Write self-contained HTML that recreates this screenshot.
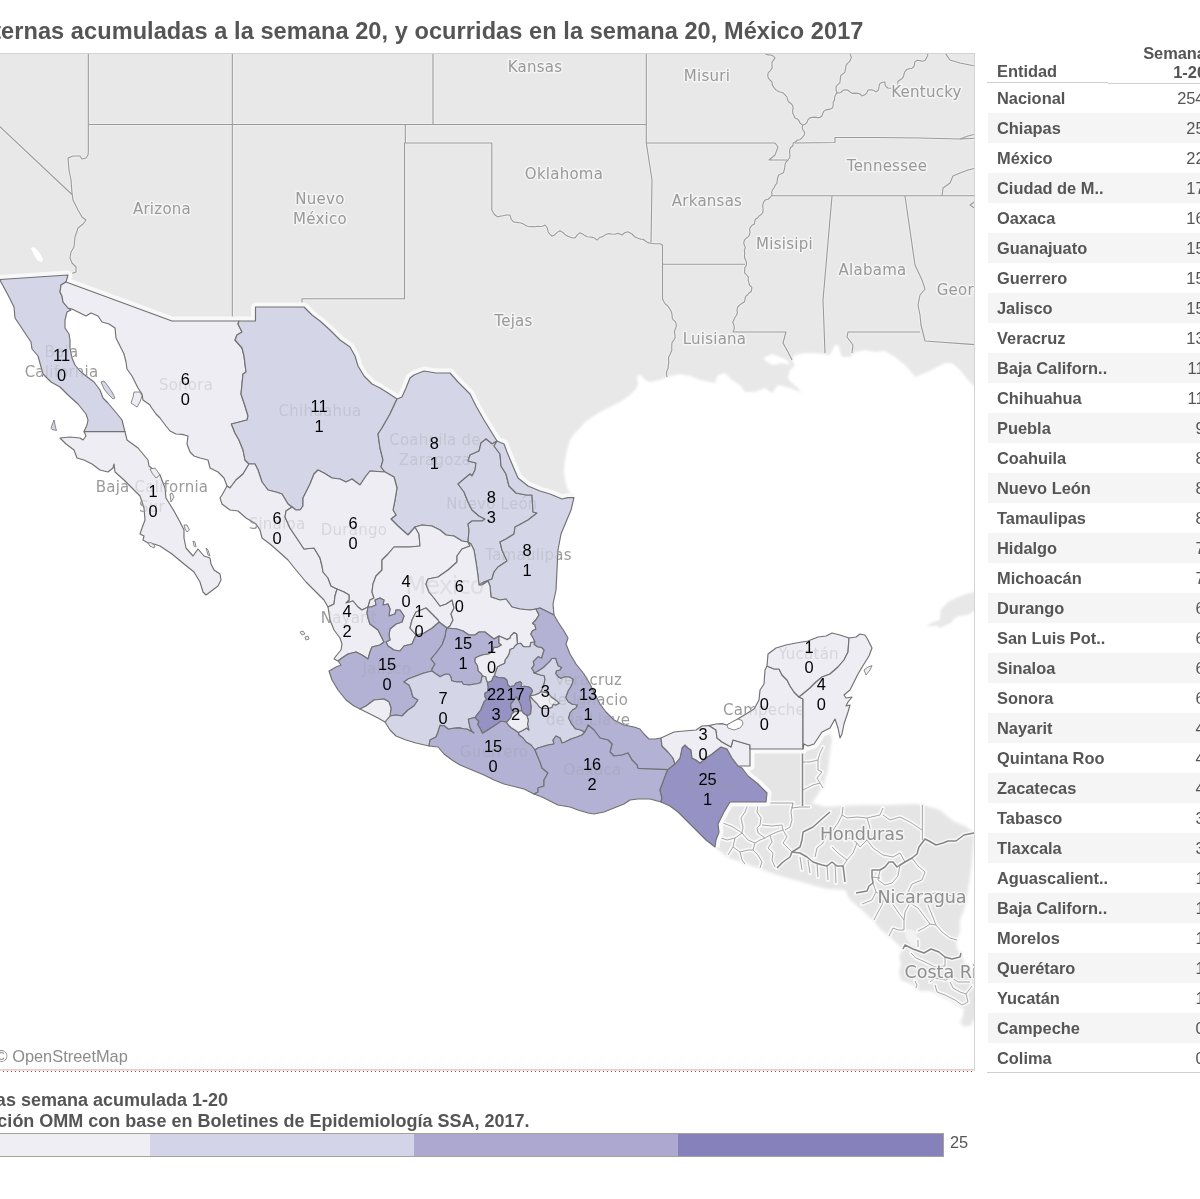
<!DOCTYPE html>
<html lang="es"><head><meta charset="utf-8"><title>Muertes maternas, México 2017</title>
<style>
html,body{margin:0;padding:0;background:#fff;}
body{width:1200px;height:1199px;position:relative;overflow:hidden;font-family:"Liberation Sans",Arial,sans-serif;color:#555;}
#title{position:absolute;right:336.5px;top:16px;white-space:nowrap;font-weight:bold;font-size:23.55px;line-height:30px;color:#555;letter-spacing:0.07px;}
#map{position:absolute;left:0;top:53px;width:975px;height:1017px;overflow:hidden;background:#fff;}
#map svg{position:absolute;left:0;top:0;}
.ln{position:absolute;background:#d3d3d3;}
#osm{position:absolute;left:-4.5px;top:1046px;font-size:16.4px;line-height:20px;color:#8c8c8c;white-space:nowrap;}
#dots{position:absolute;left:0;top:1071px;width:975px;height:1px;background:repeating-linear-gradient(to right,rgba(255,0,0,0) 0,rgba(255,0,0,0) 3px,#f51d1d 3px,#f51d1d 4px);}
#tbl{position:absolute;left:987px;top:40px;width:213px;height:1040px;overflow:hidden;}
.row{position:absolute;left:1px;width:212px;height:30px;}
.row.alt{background:#f5f5f5;}
.row b{position:absolute;left:9px;top:4.7px;font-size:16.4px;line-height:20px;white-space:nowrap;color:#555;}
.row i{position:absolute;right:-4.5px;top:4.7px;font-style:normal;font-size:16.4px;line-height:20px;color:#555;}
.hd{position:absolute;font-weight:bold;font-size:16.4px;line-height:19px;color:#555;white-space:nowrap;}
#leg1,#leg2{position:absolute;white-space:nowrap;font-weight:bold;font-size:18px;line-height:21px;color:#555;}
#bar{position:absolute;left:-40px;top:1133px;width:982px;height:22px;border:1px solid #a6a395;display:flex;}
#bar span{display:block;height:22px;}
.num text{font-family:"Liberation Sans",Arial,sans-serif;font-size:16.4px;}
#lab25{position:absolute;left:950px;top:1132.3px;font-size:16.4px;line-height:20px;color:#555;}
</style></head><body>
<div id="title">Muertes maternas acumuladas a la semana 20, y ocurridas en la semana 20, México 2017</div>
<div id="map">
<svg width="975" height="1017" viewBox="0 53 975 1017" font-family="'DejaVu Sans','Liberation Sans',sans-serif">
<defs>
<filter id="soft" x="-5%" y="-5%" width="110%" height="110%"><feGaussianBlur stdDeviation="1.3"/></filter>
<filter id="soft3" x="-5%" y="-5%" width="110%" height="110%"><feGaussianBlur stdDeviation="0.7"/></filter>
<filter id="flat" x="0" y="0" width="100%" height="100%" color-interpolation-filters="sRGB"><feColorMatrix type="matrix" values="0 0 0 0 0.27  0 0 0 0 0.27  0 0 0 0 0.27  0 0 0 1 0"/></filter>
<mask id="fade" maskUnits="userSpaceOnUse" x="0" y="53" width="975" height="1017"><rect x="0" y="53" width="975" height="1017" fill="#fff"/><use href="#states" filter="url(#flat)"/></mask>
<filter id="soft2" x="-5%" y="-5%" width="110%" height="110%"><feGaussianBlur stdDeviation="1.6"/></filter>
</defs>

<g filter="url(#soft)" fill="#e8e8e8">
<path d="M-30 20 L1000 20 L1000 400 L975 387 L968 380 L960 370 L952 363 L945 363 L935 368 L925 373 L915 377 L912 373 L905 365 L895 357 L885 351 L875 352 L865 350 L855 352 L850 357 L842 357 L838 345 L835 345 L830 355 L815 353 L805 353 L795 355 L792 360 L795 365 L790 370 L788 378 L792 383 L798 388 L803 396 L800 392 L790 388 L778 385 L772 393 L765 388 L755 392 L745 392 L740 385 L732 380 L725 373 L718 375 L715 383 L700 380 L690 376 L680 374 L667 377 L660 380 L650 382 L645 380 L641 375 L637 376 L638 385 L635 390 L630 395 L620 402 L610 407 L600 412 L592 417 L585 422 L580 428 L575 433 L570 440 L567 450 L565 460 L564 470 L565 480 L568 490 L574 497.6 L568 497.6 L562 499 L550 494 L540 491 L528 486 L518 478 L512 464 L507 452 L504 444 L497 441 L492 433 L484 420 L476 406 L470 394 L458 382 L450 373 L436 373 L424 371 L414 375 L410 378 L406 388 L402 397 L397 399 L388 393 L380 388 L372 384 L364 376 L358 366 L355 356 L350 347 L340 340 L330 330 L320 321 L312 315 L304 307 L302 307 L255.5 307 L255.5 321 L239 321 L172 321 L66 282 L66 282 L68 275 L0 279.5 L-30 281Z"/>
<path d="M925.5 626.5 L932 622.5 L940 620 L940.5 610 L948 602 L958 597 L968 593.5 L1000 586 L1000 605 L974 611 L968 615 L958 616 L954 619 L951 623 L944 626 L939 628 L937 625.5 L930 626Z"/>
</g>
<g filter="url(#soft2)"><path d="M715 847 L716 840 L719 832 L718 824 L724 812 L730 802 L766 802 L767 793 L764 790 L758 784 L748 776 L742 768 L738 766 L750 766 L750 749 L803 749 L804 744 L808 746 L814 744 L818 738 L822 732 L830 730 L832 740 L830 752 L828 770 L824 784 L818 794 L812 803 L825 807 L840 806 L865 805 L890 805 L915 804 L923 805 L940 810 L953 821 L967 827 L974 833 L973 850 L971 870 L968 890 L965 907 L960 920 L960 933 L956 940 L957 949 L961 953 L963 959 L967 967 L973 975 L985 985 L985 1015 L973 1020 L972 1025 L965 1027 L960 1023 L963 1016 L964 1009 L957 1005 L949 1000 L940 996 L931 991 L920 991 L913 985 L901 980 L899 972 L901 964 L899 956 L903 949 L889 936 L880 929 L875 922 L862 910 L850 900 L845 890 L827 889 L802 882 L777 875 L752 866 L727 857 L715 847Z" fill="#e5e5e5"/></g>
<path d="M763 358 L772 354 L780 357 L787 360 L790 365 L782 363 L773 365 L767 362Z" fill="#fff" filter="url(#soft)"/>
<path d="M31 248 L34 247 L39 252 L43 259 L42 262 L38 261 L34 255Z" fill="#fff"/>
<g fill="none" stroke="#efefef" stroke-width="3" stroke-linejoin="round">
<path d="M88.3 50 L88.3 152 L88 155 L86 158 L82 159 L80 156 L73 156 L68 158 L69 170 L71 180 L72 193 L73 200 L78 210 L82 217 L86 220 L83 224 L78 228 L75 237 L74 247 L71 252 L70 258 L72 263 L76 267 L76 272 L68 275"/>
<path d="M-5 122 L72 194.5"/>
<path d="M88.3 124.5 L646.3 124.5"/>
<path d="M232.3 50 L232.3 321"/>
<path d="M433 50 L433 124.5"/>
<path d="M405.3 124.5 L405.3 143"/>
<path d="M404.5 143 L491.8 143 L491.8 210"/>
<path d="M491.8 210 L493.3 212.8 L495.3 215.3 L498 217 L500.4 216.1 L502.9 215.7 L506.4 215 L510 215 L510.6 217.7 L511.9 220.1 L513.9 222 L516.8 222.4 L519.7 222.7 L522.5 223.5 L525 225.1 L527.3 226.3 L529.8 226.8 L532.5 226.5 L535.1 226.7 L537.4 226.2 L540.1 226.5 L542.6 226.2 L545 225.1 L546.7 227 L547.7 229.3 L548.1 232 L549.8 234.2 L551.8 236.2 L554.9 234.7 L557.2 232.4 L559.9 230.8 L562.9 232.4 L565.1 234.7 L567.9 236.2 L571.3 237.6 L575 238 L577.1 235.1 L579.8 232.8 L582.5 233.9 L584.8 235.6 L587.2 236.8 L590 237 L592.6 237.4 L595 238.3 L597 240.1 L600.2 237.2 L602.7 236.6 L605 234.9 L608.4 233.6 L612 234 L615.1 234.2 L618 233.2 L622 235 L624.7 232.8 L627.9 231.8 L632 234 L634.6 236.7 L637.9 238.2 L640.3 239.1 L643 239.2 L645.1 240.8 L647.8 242.6 L650.9 243.3 L654 243.7 L657 243.8 L659.9 243.8 L662.5 245 L662.5 299 L663.9 301.7 L665.5 304.2 L667.9 306.1 L669.7 308.8 L671.4 311.7 L672.1 315 L672.2 317.8 L673.5 320.2 L675.7 322.2 L676.3 324.9 L676 327.5 L674.8 329.9 L674.4 332.4 L675 335 L675.1 337.8 L673.9 340.1 L672.1 342.3 L671.8 344.9 L671.7 347.5 L671.9 350.2 L670.8 352.6 L669.8 355 L668.6 357.3 L668.6 359.9 L668.8 362.6 L668.3 365.1 L668.2 368 L666.9 370.9 L666.4 373.9 L666.9 377"/>
<path d="M404.5 143 L404.5 298.8 L302 298.8 L302 307"/>
<path d="M646.3 50 L646.3 143 L652 180 L651 242.5"/>
<path d="M646.3 143 L775 143 L778 147 L775 155 L769 160 L787 160"/>
<path d="M662.5 264.3 L745 264.3"/>
<path d="M762 50 L763.3 52.5 L765.4 54 L768.1 54.9 L770.8 55 L773.1 55.9 L775 57.9 L773.5 60.1 L772 62.2 L772 65 L772.1 67.9 L770.7 70.3 L768.4 72.3 L767.7 74.9 L768.2 77.8 L770 80 L772.1 82.1 L772.3 84.9 L773.7 87.1 L775.3 89.3 L777.4 90.9 L780 92 L783 92.8 L785 94.8 L787 97 L787.5 99.6 L788.6 101.8 L790.8 103.5 L792.6 105.3 L793.2 107.9 L792.6 110.7 L792.8 113.2 L793.9 115.6 L795.1 118 L797.4 118.9 L798.9 120.7 L800 123 L802.8 125.3 L802.1 127.6 L803 130 L804.7 132.4 L804.3 135 L802.1 137.6 L799.8 139.8 L797.3 140.1 L795.3 142 L793.1 143.2 L793 145.8 L790.6 147.5 L789.7 149.9 L789.6 152.5 L790 155.2 L789.6 157.7 L788 160 L785.9 162.1 L785 164.6 L784.8 167.4 L784.2 170.1 L783.4 172.7 L780.8 173.9 L778.6 175.3 L777.7 177.8 L777.2 180.4 L777 183.1 L775.2 185.1 L774.3 187.5 L772.5 189.7 L771.7 192.2 L772.1 195 L770.2 197.5 L767.9 199.2 L765.1 200.1 L763.5 202.3 L762.8 204.8 L762.8 207.4 L763.1 210 L762.8 212.6 L761.3 214.5 L759.1 215.9 L757.8 217.8 L755.6 219 L754.8 221.3 L754.4 224 L752.2 225.2 L750.5 227.1 L749.5 229.3 L750 232 L749.6 234.5 L748.5 236.6 L746.3 238 L744.7 239.8 L743.7 242.4 L744.2 245 L745.3 247.6 L744.3 250 L744.7 252.5 L744.5 255.1 L744.5 257.7 L745.7 260.1 L746.5 262.6 L746.4 265.1 L744.9 267.5 L744.7 270 L744.6 272.8 L746.6 275 L748.4 277.2 L748.1 280 L748.9 282.6 L749.6 285.3 L751.8 287.1 L751.7 289.3 L751.1 291.5 L749 293 L747.7 294.8 L745.7 296.4 L745 299 L744.5 301.7 L742.2 303.2 L739.7 304.9 L737.7 307 L737 310 L737.4 312.8 L736.5 315.3 L734.9 317.5 L733.8 319.9 L732.7 322.3 L733.8 324.8 L734.3 327.3 L734 329.7 L732.9 332"/>
<path d="M803 125 L805.3 124 L807 122.4 L807.9 119.9 L809.9 117.9 L812.4 117.4 L815 117.1 L817.5 117.6 L819.8 117.5 L822 116 L822.7 113.6 L823.7 111.4 L825.9 109.9 L829.1 109.4 L832.1 108.3 L833.3 105.4 L833.1 102.3 L834.7 99.9 L834.5 97.4 L835.5 95 L836.9 92.6 L836.1 90 L836 87.1 L837.4 84.8 L839.8 82.8 L840.2 80.1 L840.4 77.7 L840.9 75.5 L842.8 73.9 L844.8 72.4 L845.3 70.1 L845.7 67.9 L846 65.5 L847.2 63.6 L849.1 62.1 L850.3 60.1 L851.4 57.6 L850.5 55 L849.6 52.4 L851 50"/>
<path d="M836 93 L838.5 93 L840.8 92.5 L842.7 90.6 L844.9 89.7 L847.7 90.1 L849.9 91.8 L852.2 93.4 L855 93.1 L857.6 93.4 L860.1 94 L862 95.9 L864.8 94.8 L866.8 92.8 L868.1 90.1 L870.9 89.7 L873.6 90.3 L876 91.9 L878 90.5 L878.8 88.4 L879.1 86 L879.7 83.9 L882.2 82.2 L885 82 L885 84.5 L886 86.5 L887.9 88 L890.5 88.2 L893 88.2 L895 89.9 L896.7 88.3 L897.8 86.4 L897.8 83.9 L897.9 81.5 L899.9 80 L902.1 78.5 L903.5 76.6 L904 74.2 L904.7 71.8 L906.7 69.6 L909.3 68.7 L912.1 68.2 L914 66.5 L914.5 64.2 L914.8 61.9 L917.3 60.3 L919.9 60.6 L922.7 61.3 L925.1 60.4 L926.7 57.6 L927.9 54.9 L926.4 52.7 L926.7 50.1"/>
<path d="M943 50 L950 60 L960 63 L970 65 L980 67"/>
<path d="M795 143 L835 142.5 L835 137.5 L878 137.5 L920 138 L960 139 L980 138"/>
<path d="M960 139 L968 136 L980 133"/>
<path d="M772 195.8 L980 195.8"/>
<path d="M942 196 L943 188 L950 183 L953 176 L960 173 L968 170 L980 167"/>
<path d="M832 196 L823 300 L825 353"/>
<path d="M905 196 L915 265 L922 280 L925 289 L920 295 L918 305 L920 315 L921 325 L925 341 L980 345"/>
<path d="M733 332 L786 332 L783 343 L788 352 L792 360"/>
<path d="M920 332 L848 332 L847 337 L853 345 L852 353"/>
<path d="M980 198 L970 205 L980 212"/>
</g>
<g fill="none" stroke="#9a9a9a" stroke-width="1.1" stroke-linejoin="round">
<path d="M88.3 50 L88.3 152 L88 155 L86 158 L82 159 L80 156 L73 156 L68 158 L69 170 L71 180 L72 193 L73 200 L78 210 L82 217 L86 220 L83 224 L78 228 L75 237 L74 247 L71 252 L70 258 L72 263 L76 267 L76 272 L68 275"/>
<path d="M-5 122 L72 194.5"/>
<path d="M88.3 124.5 L646.3 124.5"/>
<path d="M232.3 50 L232.3 321"/>
<path d="M433 50 L433 124.5"/>
<path d="M405.3 124.5 L405.3 143"/>
<path d="M404.5 143 L491.8 143 L491.8 210"/>
<path d="M491.8 210 L493.3 212.8 L495.3 215.3 L498 217 L500.4 216.1 L502.9 215.7 L506.4 215 L510 215 L510.6 217.7 L511.9 220.1 L513.9 222 L516.8 222.4 L519.7 222.7 L522.5 223.5 L525 225.1 L527.3 226.3 L529.8 226.8 L532.5 226.5 L535.1 226.7 L537.4 226.2 L540.1 226.5 L542.6 226.2 L545 225.1 L546.7 227 L547.7 229.3 L548.1 232 L549.8 234.2 L551.8 236.2 L554.9 234.7 L557.2 232.4 L559.9 230.8 L562.9 232.4 L565.1 234.7 L567.9 236.2 L571.3 237.6 L575 238 L577.1 235.1 L579.8 232.8 L582.5 233.9 L584.8 235.6 L587.2 236.8 L590 237 L592.6 237.4 L595 238.3 L597 240.1 L600.2 237.2 L602.7 236.6 L605 234.9 L608.4 233.6 L612 234 L615.1 234.2 L618 233.2 L622 235 L624.7 232.8 L627.9 231.8 L632 234 L634.6 236.7 L637.9 238.2 L640.3 239.1 L643 239.2 L645.1 240.8 L647.8 242.6 L650.9 243.3 L654 243.7 L657 243.8 L659.9 243.8 L662.5 245 L662.5 299 L663.9 301.7 L665.5 304.2 L667.9 306.1 L669.7 308.8 L671.4 311.7 L672.1 315 L672.2 317.8 L673.5 320.2 L675.7 322.2 L676.3 324.9 L676 327.5 L674.8 329.9 L674.4 332.4 L675 335 L675.1 337.8 L673.9 340.1 L672.1 342.3 L671.8 344.9 L671.7 347.5 L671.9 350.2 L670.8 352.6 L669.8 355 L668.6 357.3 L668.6 359.9 L668.8 362.6 L668.3 365.1 L668.2 368 L666.9 370.9 L666.4 373.9 L666.9 377"/>
<path d="M404.5 143 L404.5 298.8 L302 298.8 L302 307"/>
<path d="M646.3 50 L646.3 143 L652 180 L651 242.5"/>
<path d="M646.3 143 L775 143 L778 147 L775 155 L769 160 L787 160"/>
<path d="M662.5 264.3 L745 264.3"/>
<path d="M762 50 L763.3 52.5 L765.4 54 L768.1 54.9 L770.8 55 L773.1 55.9 L775 57.9 L773.5 60.1 L772 62.2 L772 65 L772.1 67.9 L770.7 70.3 L768.4 72.3 L767.7 74.9 L768.2 77.8 L770 80 L772.1 82.1 L772.3 84.9 L773.7 87.1 L775.3 89.3 L777.4 90.9 L780 92 L783 92.8 L785 94.8 L787 97 L787.5 99.6 L788.6 101.8 L790.8 103.5 L792.6 105.3 L793.2 107.9 L792.6 110.7 L792.8 113.2 L793.9 115.6 L795.1 118 L797.4 118.9 L798.9 120.7 L800 123 L802.8 125.3 L802.1 127.6 L803 130 L804.7 132.4 L804.3 135 L802.1 137.6 L799.8 139.8 L797.3 140.1 L795.3 142 L793.1 143.2 L793 145.8 L790.6 147.5 L789.7 149.9 L789.6 152.5 L790 155.2 L789.6 157.7 L788 160 L785.9 162.1 L785 164.6 L784.8 167.4 L784.2 170.1 L783.4 172.7 L780.8 173.9 L778.6 175.3 L777.7 177.8 L777.2 180.4 L777 183.1 L775.2 185.1 L774.3 187.5 L772.5 189.7 L771.7 192.2 L772.1 195 L770.2 197.5 L767.9 199.2 L765.1 200.1 L763.5 202.3 L762.8 204.8 L762.8 207.4 L763.1 210 L762.8 212.6 L761.3 214.5 L759.1 215.9 L757.8 217.8 L755.6 219 L754.8 221.3 L754.4 224 L752.2 225.2 L750.5 227.1 L749.5 229.3 L750 232 L749.6 234.5 L748.5 236.6 L746.3 238 L744.7 239.8 L743.7 242.4 L744.2 245 L745.3 247.6 L744.3 250 L744.7 252.5 L744.5 255.1 L744.5 257.7 L745.7 260.1 L746.5 262.6 L746.4 265.1 L744.9 267.5 L744.7 270 L744.6 272.8 L746.6 275 L748.4 277.2 L748.1 280 L748.9 282.6 L749.6 285.3 L751.8 287.1 L751.7 289.3 L751.1 291.5 L749 293 L747.7 294.8 L745.7 296.4 L745 299 L744.5 301.7 L742.2 303.2 L739.7 304.9 L737.7 307 L737 310 L737.4 312.8 L736.5 315.3 L734.9 317.5 L733.8 319.9 L732.7 322.3 L733.8 324.8 L734.3 327.3 L734 329.7 L732.9 332"/>
<path d="M803 125 L805.3 124 L807 122.4 L807.9 119.9 L809.9 117.9 L812.4 117.4 L815 117.1 L817.5 117.6 L819.8 117.5 L822 116 L822.7 113.6 L823.7 111.4 L825.9 109.9 L829.1 109.4 L832.1 108.3 L833.3 105.4 L833.1 102.3 L834.7 99.9 L834.5 97.4 L835.5 95 L836.9 92.6 L836.1 90 L836 87.1 L837.4 84.8 L839.8 82.8 L840.2 80.1 L840.4 77.7 L840.9 75.5 L842.8 73.9 L844.8 72.4 L845.3 70.1 L845.7 67.9 L846 65.5 L847.2 63.6 L849.1 62.1 L850.3 60.1 L851.4 57.6 L850.5 55 L849.6 52.4 L851 50"/>
<path d="M836 93 L838.5 93 L840.8 92.5 L842.7 90.6 L844.9 89.7 L847.7 90.1 L849.9 91.8 L852.2 93.4 L855 93.1 L857.6 93.4 L860.1 94 L862 95.9 L864.8 94.8 L866.8 92.8 L868.1 90.1 L870.9 89.7 L873.6 90.3 L876 91.9 L878 90.5 L878.8 88.4 L879.1 86 L879.7 83.9 L882.2 82.2 L885 82 L885 84.5 L886 86.5 L887.9 88 L890.5 88.2 L893 88.2 L895 89.9 L896.7 88.3 L897.8 86.4 L897.8 83.9 L897.9 81.5 L899.9 80 L902.1 78.5 L903.5 76.6 L904 74.2 L904.7 71.8 L906.7 69.6 L909.3 68.7 L912.1 68.2 L914 66.5 L914.5 64.2 L914.8 61.9 L917.3 60.3 L919.9 60.6 L922.7 61.3 L925.1 60.4 L926.7 57.6 L927.9 54.9 L926.4 52.7 L926.7 50.1"/>
<path d="M943 50 L950 60 L960 63 L970 65 L980 67"/>
<path d="M795 143 L835 142.5 L835 137.5 L878 137.5 L920 138 L960 139 L980 138"/>
<path d="M960 139 L968 136 L980 133"/>
<path d="M772 195.8 L980 195.8"/>
<path d="M942 196 L943 188 L950 183 L953 176 L960 173 L968 170 L980 167"/>
<path d="M832 196 L823 300 L825 353"/>
<path d="M905 196 L915 265 L922 280 L925 289 L920 295 L918 305 L920 315 L921 325 L925 341 L980 345"/>
<path d="M733 332 L786 332 L783 343 L788 352 L792 360"/>
<path d="M920 332 L848 332 L847 337 L853 345 L852 353"/>
<path d="M980 198 L970 205 L980 212"/>
</g>
<path d="M904 930 L910 929 L916 932 L918 940 L918 947 L911 945 L906 938Z" fill="#f2f2f2" filter="url(#soft3)"/>
<g fill="none" stroke="#f8f8f8" stroke-width="4.4" stroke-linejoin="round" stroke-linecap="round" filter="url(#soft3)">
<path d="M922.4 805 L922.4 840"/>
<path d="M729 803 L793 803 L792 808 L800 807 L810 807"/>
<path d="M748 804 L745 812 L741 818 L743 827 L742 833 L735 838 L733 847 L728 855"/>
<path d="M758 804 L757 812 L761 818 L760 825 L757 828 L758 833 L765 838 L770 835 L777 832 L783 830 L782 825 L772 826 L762 825"/>
<path d="M793 803 L791 812 L792 820 L790 827 L785 830"/>
<path d="M717 827 L723 823 L733 827 L742 833"/>
<path d="M718 837 L727 840 L735 838"/>
<path d="M742 833 L748 840 L755 843 L760 840 L765 838"/>
<path d="M755 843 L753 850 L758 855 L762 862 L760 868"/>
<path d="M770 835 L772 842 L768 848 L773 853 L772 860 L775 867"/>
<path d="M783 830 L787 837 L783 843 L788 848 L792 852"/>
<path d="M733 847 L740 852 L748 850 L753 850"/>
<path d="M740 852 L742 860 L745 864"/>
<path d="M803 762 L810 762 L818 760 L820 753 L823 747"/>
<path d="M803 790 L813 785 L820 783 L823 788"/>
<path d="M818 760 L818 770 L822 772 L817 778 L820 783"/>
<path d="M800 857 L802 870"/>
<path d="M808 860 L810 873"/>
<path d="M817 863 L818 877"/>
<path d="M827 865 L828 880"/>
<path d="M835 864 L836 883"/>
<path d="M843 807 L842 815 L847 818 L857 817 L867 818 L880 815 L883 808"/>
<path d="M842 815 L838 823 L833 830 L830 836"/>
<path d="M867 840 L873 848 L883 855 L893 857 L900 853 L905 862"/>
<path d="M857 843 L853 853 L847 860 L843 866"/>
<path d="M827 833 L823 843 L817 848 L815 857"/>
<path d="M832 847 L838 853 L847 860"/>
<path d="M867 840 L860 847 L857 843 L850 838 L845 840"/>
<path d="M867 818 L870 828 L867 840"/>
<path d="M883 815 L890 820 L900 817 L910 822 L922 830"/>
<path d="M880 870 L878 880 L885 885 L892 883 L898 876 L900 865"/>
<path d="M872 877 L880 878"/>
<path d="M912 858 L918 866 L925 872 L922 880 L912 884 L908 892 L915 897 L925 895 L935 893 L945 894 L955 897 L960 903"/>
<path d="M873 883 L876 892 L872 900 L862 904"/>
<path d="M876 892 L884 897 L882 905 L878 912 L874 920"/>
<path d="M884 897 L892 903 L898 912 L904 920 L904 930"/>
<path d="M908 892 L910 903 L905 912 L904 920"/>
<path d="M925 895 L928 905 L932 915 L936 925 L942 932 L950 938 L957 940"/>
<path d="M910 903 L918 908 L924 916 L930 924 L936 925"/>
<path d="M918 931 L924 928 L930 924"/>
<path d="M889 936 L893 928 L898 930 L904 930"/>
<path d="M918 947 L918 940"/>
<path d="M911 953 L916 958 L925 962 L935 967 L945 966 L945 957"/>
<path d="M930 982 L935 978 L945 980 L952 978 L958 982 L970 982"/>
<path d="M935 985 L937 992 L945 995 L955 1000 L962 1005 L968 1002 L966 994 L972 986"/>
<path d="M950 982 L953 988 L960 992 L966 994"/>
<path d="M915 981 L917 985 L916 988"/>
<path d="M802.5 749 L802.5 806"/>
<path d="M830 812 L823 818 L813 827 L803 832 L802 840 L800 847 L792 852"/>
<path d="M792 852 L790 857 L783 862 L777 868"/>
<path d="M792 852 L800 853 L807 857 L813 862 L822 865 L827 866 L832 862 L837 866 L843 866 L844 873 L845 882"/>
<path d="M856 893 L867 891 L869 886 L873 883 L872 877 L872 870 L880 870 L885 867 L889 862 L893 862 L897 867 L900 865 L905 862 L912 858 L917 854 L919 847 L922 843 L925 839 L929 841 L936 845 L943 843 L948 841 L956 841 L964 835 L974 833"/>
<path d="M903 949 L905 945 L913 949 L924 953 L931 949 L939 952 L945 957 L952 959 L960 957 L961 953"/>
</g>
<g fill="none" stroke="#a6a6a6" stroke-width="1" stroke-linejoin="round">
<path d="M922.4 805 L922.4 840"/>
<path d="M729 803 L793 803 L792 808 L800 807 L810 807"/>
<path d="M748 804 L745 812 L741 818 L743 827 L742 833 L735 838 L733 847 L728 855"/>
<path d="M758 804 L757 812 L761 818 L760 825 L757 828 L758 833 L765 838 L770 835 L777 832 L783 830 L782 825 L772 826 L762 825"/>
<path d="M793 803 L791 812 L792 820 L790 827 L785 830"/>
<path d="M717 827 L723 823 L733 827 L742 833"/>
<path d="M718 837 L727 840 L735 838"/>
<path d="M742 833 L748 840 L755 843 L760 840 L765 838"/>
<path d="M755 843 L753 850 L758 855 L762 862 L760 868"/>
<path d="M770 835 L772 842 L768 848 L773 853 L772 860 L775 867"/>
<path d="M783 830 L787 837 L783 843 L788 848 L792 852"/>
<path d="M733 847 L740 852 L748 850 L753 850"/>
<path d="M740 852 L742 860 L745 864"/>
<path d="M803 762 L810 762 L818 760 L820 753 L823 747"/>
<path d="M803 790 L813 785 L820 783 L823 788"/>
<path d="M818 760 L818 770 L822 772 L817 778 L820 783"/>
<path d="M800 857 L802 870"/>
<path d="M808 860 L810 873"/>
<path d="M817 863 L818 877"/>
<path d="M827 865 L828 880"/>
<path d="M835 864 L836 883"/>
<path d="M843 807 L842 815 L847 818 L857 817 L867 818 L880 815 L883 808"/>
<path d="M842 815 L838 823 L833 830 L830 836"/>
<path d="M867 840 L873 848 L883 855 L893 857 L900 853 L905 862"/>
<path d="M857 843 L853 853 L847 860 L843 866"/>
<path d="M827 833 L823 843 L817 848 L815 857"/>
<path d="M832 847 L838 853 L847 860"/>
<path d="M867 840 L860 847 L857 843 L850 838 L845 840"/>
<path d="M867 818 L870 828 L867 840"/>
<path d="M883 815 L890 820 L900 817 L910 822 L922 830"/>
<path d="M880 870 L878 880 L885 885 L892 883 L898 876 L900 865"/>
<path d="M872 877 L880 878"/>
<path d="M912 858 L918 866 L925 872 L922 880 L912 884 L908 892 L915 897 L925 895 L935 893 L945 894 L955 897 L960 903"/>
<path d="M873 883 L876 892 L872 900 L862 904"/>
<path d="M876 892 L884 897 L882 905 L878 912 L874 920"/>
<path d="M884 897 L892 903 L898 912 L904 920 L904 930"/>
<path d="M908 892 L910 903 L905 912 L904 920"/>
<path d="M925 895 L928 905 L932 915 L936 925 L942 932 L950 938 L957 940"/>
<path d="M910 903 L918 908 L924 916 L930 924 L936 925"/>
<path d="M918 931 L924 928 L930 924"/>
<path d="M889 936 L893 928 L898 930 L904 930"/>
<path d="M918 947 L918 940"/>
<path d="M911 953 L916 958 L925 962 L935 967 L945 966 L945 957"/>
<path d="M930 982 L935 978 L945 980 L952 978 L958 982 L970 982"/>
<path d="M935 985 L937 992 L945 995 L955 1000 L962 1005 L968 1002 L966 994 L972 986"/>
<path d="M950 982 L953 988 L960 992 L966 994"/>
<path d="M915 981 L917 985 L916 988"/>
</g>
<g fill="none" stroke="#858585" stroke-width="1.5" stroke-linejoin="round">
<path d="M802.5 749 L802.5 806"/>
<path d="M830 812 L823 818 L813 827 L803 832 L802 840 L800 847 L792 852"/>
<path d="M792 852 L790 857 L783 862 L777 868"/>
<path d="M792 852 L800 853 L807 857 L813 862 L822 865 L827 866 L832 862 L837 866 L843 866 L844 873 L845 882"/>
<path d="M856 893 L867 891 L869 886 L873 883 L872 877 L872 870 L880 870 L885 867 L889 862 L893 862 L897 867 L900 865 L905 862 L912 858 L917 854 L919 847 L922 843 L925 839 L929 841 L936 845 L943 843 L948 841 L956 841 L964 835 L974 833"/>
<path d="M903 949 L905 945 L913 949 L924 953 L931 949 L939 952 L945 957 L952 959 L960 957 L961 953"/>
</g>
<path d="M574 497.6 L568 497.6 L562 499 L550 494 L540 491 L528 486 L518 478 L512 464 L507 452 L504 444 L497 441 L492 433 L484 420 L476 406 L470 394 L458 382 L450 373 L436 373 L424 371 L414 375 L410 378 L406 388 L402 397 L397 399 L388 393 L380 388 L372 384 L364 376 L358 366 L355 356 L350 347 L340 340 L330 330 L320 321 L312 315 L304 307 L302 307 L255.5 307 L255.5 321 L239 321 L172 321 L66 282 L66 282 L68 275 L0 279.5" fill="none" stroke="#f8f8f8" stroke-width="9" stroke-linejoin="round" filter="url(#soft3)"/>
<path d="M715 847 L716 840 L719 832 L718 824 L724 812 L730 802 L766 802 L767 793 L764 790 L758 784 L748 776 L742 768 L738 766 L750 766 L750 749 L803 749 L804 744 L808 746 L814 744 L818 738 L822 732 L830 730" fill="none" stroke="#fafafa" stroke-width="9" stroke-linejoin="round" filter="url(#soft3)"/>
<g id="states" stroke="#717171" stroke-width="1.15" stroke-linejoin="round">
<path d="M0 279.5 L68 275 L66 282 L61 285 L60 292 L62 296 L63 302 L68 308 L71 310 L67 312 L65 320 L65 328 L69 334 L70 340 L70 348 L72 358 L75 365 L80 371 L86 376 L94 382 L100 390 L103 398 L108 403 L113 409 L118 415 L122 420 L124 428 L125 431.6 L84 431.6 L87 425 L88 420 L86 414 L78 404 L68 395 L60 387 L51 382 L43 374 L38 356 L32 349 L31 342 L23 330 L15 318 L14 307 L8 295 L1 282 L0 279.5Z" fill="#d4d5e7"/>
<path d="M84 431.6 L86 436 L83 440 L80 438 L70 437 L60 438 L66 444 L74 450 L77 458 L84 460 L92 464 L100 470 L108 472 L113 468 L114 464 L115 472 L124 480 L132 488 L140 496 L144 508 L145 520 L142 528 L140 534 L144 536 L143 540 L148 543 L154 544 L160 546 L172 554 L184 564 L194 572 L200 582 L203 592 L206 595 L210 592 L218 586 L221 580 L220 574 L214 570 L211 564 L210 558 L204 556 L198 549 L193 556 L186 548 L184 538 L184 530 L180 522 L174 511 L166 498 L165 488 L160 475 L149 466 L148 460 L138 448 L127 440 L125 431.6 L84 431.6Z" fill="#ededf3"/>
<path d="M66 282 L172 321 L239 321 L238 324 L242 332 L237 335 L235 340 L242 348 L244 356 L246 372 L243 374 L241 394 L245 406 L248 416 L247 420 L231.4 424 L235 433 L239 440 L243 450 L245 460 L249 464 L243 474 L236 480 L230 488 L227 486 L224 478 L218 472 L210 468 L208 460 L200 458 L194 456 L190 452 L187 444 L188 436 L182 434.4 L176 434 L170 431 L166 426 L160 418 L156 414 L151 407 L150 405 L143 400 L142 394 L140 391 L138 388 L136 384 L132 376 L127 369 L126 362 L124 354 L120 346 L116 338 L115 328 L109 324 L102 322 L98 316 L91 313 L86 316 L80 313 L72 309 L68 308 L63 302 L62 296 L60 292 L61 285 L66 282Z" fill="#ededf3"/>
<path d="M239 321 L255.5 321 L255.5 307 L302 307 L304 307 L312 315 L320 321 L330 330 L340 340 L350 347 L355 356 L358 366 L364 376 L372 384 L380 388 L388 393 L397 399 L390 414 L382 428 L378 434 L380 448 L383 460 L381 467 L385 472 L370 471 L366 476 L360 485 L352 479 L346 482 L340 479 L332 478 L324 473 L318 470 L314 474 L310 484 L306 492 L303 498 L303 506 L300 510 L296 510 L292 507 L288 504 L282 494 L276 492 L268 490 L262 482 L258 470 L255 464 L249 464 L245 460 L243 450 L239 440 L235 433 L231.4 424 L247 420 L248 416 L245 406 L241 394 L243 374 L246 372 L244 356 L242 348 L235 340 L237 335 L242 332 L238 324 L239 321Z" fill="#d4d5e7"/>
<path d="M397 399 L402 397 L406 388 L410 378 L414 375 L424 371 L436 373 L450 373 L458 382 L470 394 L476 406 L484 420 L492 433 L497 441 L492 444 L486 439 L481 443 L479 451 L470 455 L468 461 L476 463 L475 470 L472 476 L470 474 L458 484 L464 492 L468 502 L472 510 L479 516 L485 519 L482 521 L472 521 L468 524 L469 530 L468 542 L462 541 L454 536 L446 535 L440 530 L432 526 L422 525 L415 527 L408 535 L398 526 L391 519 L396 515 L393 510 L395 500 L397 488 L394 477 L385 472 L381 467 L383 460 L380 448 L378 434 L382 428 L390 414 L397 399Z" fill="#d4d5e7"/>
<path d="M497 441 L494 446 L500 454 L501 466 L506 474 L509 486 L516 493 L526 495 L532 495 L533 512 L537 513 L528 520 L519 525 L515 527 L514 534 L506 539 L500 542 L502 550 L507 561 L498 567 L494 572 L492 579 L484 582 L479 585 L478 576 L476 562 L474 550 L471 544 L468 542 L469 530 L468 524 L472 521 L482 521 L485 519 L479 516 L472 510 L468 502 L464 492 L458 484 L470 474 L472 476 L475 470 L476 463 L468 461 L470 455 L479 451 L481 443 L486 439 L492 444 L497 441Z" fill="#d4d5e7"/>
<path d="M497 441 L504 444 L507 452 L512 464 L518 478 L528 486 L540 491 L550 494 L562 499 L568 497.6 L574 497.6 L571 510 L566 522 L561 534 L558 550 L557 570 L556 590 L553 604 L554 615 L548 612 L540 608 L536 609 L530 610 L520 609 L512 607 L506 599 L500 600 L491 597 L490 586 L488 581 L482 585 L479 585 L484 582 L492 579 L494 572 L498 567 L507 561 L502 550 L500 542 L506 539 L514 534 L515 527 L519 525 L528 520 L537 513 L533 512 L532 495 L526 495 L516 493 L509 486 L506 474 L501 466 L500 454 L494 446 L497 441Z" fill="#d4d5e7"/>
<path d="M249 464 L255 464 L258 470 L262 482 L268 490 L276 492 L282 494 L288 504 L292 507 L286 511 L285 517 L290 528 L298 540 L304 549 L314 548 L320 558 L322 566 L323 572 L328 578 L331 586 L337 589 L335 596 L334 604 L328 607 L324 600 L316 592 L306 582 L296 570 L288 560 L278 551 L270 544 L262 538 L260 530 L256 524 L246 518 L238 511 L230 510 L222 504 L220 498 L222 495 L227 486 L230 488 L236 480 L243 474 L249 464Z" fill="#ededf3"/>
<path d="M292 507 L296 510 L300 510 L303 506 L303 498 L306 492 L310 484 L314 474 L318 470 L324 473 L332 478 L340 479 L346 482 L352 479 L360 485 L366 476 L370 471 L385 472 L394 477 L397 488 L395 500 L393 510 L396 515 L391 519 L398 526 L408 535 L415 527 L419 534 L420 546 L410 547 L394 547 L388 554 L382 560 L382 570 L376 576 L373 584 L372 592 L374 598 L370 600 L368 607 L362 610 L358 607 L353 601 L346 603 L349 600 L349 595 L344 592 L337 589 L331 586 L328 578 L323 572 L322 566 L320 558 L314 548 L304 549 L298 540 L290 528 L285 517 L286 511 L292 507Z" fill="#ededf3"/>
<path d="M337 589 L344 592 L349 595 L349 600 L346 603 L353 601 L358 607 L362 610 L368 607 L367 613 L368 618 L370 624 L378 630 L382 638 L384 642 L380 645 L372 647 L370 652 L368 659 L362 655 L356 652 L348 654 L342 658 L338 661 L334 659 L336 656 L341 650 L342 644 L340 638 L334 630 L330 620 L328 607 L334 604 L335 596 L337 589Z" fill="#ededf3"/>
<path d="M415 527 L422 525 L432 526 L440 530 L446 535 L454 536 L462 541 L468 542 L470 546 L462 549 L457 556 L457 562 L448 570 L438 577 L428 579 L426 584 L429 592 L434 598 L440 606 L446 604 L452 600 L454 608 L451 614 L453 620 L450 626 L447 628 L439 622 L438 620 L432 614 L426 608 L416 612 L412 620 L410 628 L416 635 L412 644 L404 646 L400 651 L394 650 L388 646 L386 642 L390 640 L389 635 L390 629 L396 624 L402 622 L404 616 L400 610 L396 610 L395 614 L389 616 L390 609 L388 604 L383 605 L384 600 L380 598 L375 600 L376 605 L371 607 L368 607 L370 600 L374 598 L372 592 L373 584 L376 576 L382 570 L382 560 L388 554 L394 547 L410 547 L420 546 L419 534 L415 527Z" fill="#ededf3"/>
<path d="M468 542 L471 544 L474 550 L476 562 L478 576 L479 585 L482 585 L488 581 L490 586 L491 597 L500 600 L506 599 L512 607 L520 609 L530 610 L536 609 L539 615 L535.8 620 L532.5 623.3 L535 625 L535.8 629.2 L532.5 630.8 L530.8 634.2 L533.3 638.3 L535 642 L530.8 642.5 L530 646.7 L523.3 646.7 L520.8 643.3 L517.5 643.8 L517 640 L516.7 634.2 L514.2 632.5 L510.8 635.8 L510 638.3 L506.7 639.6 L502.5 637.5 L499 636 L494 639 L490 636 L485 632 L479 632 L475 635 L469 635 L463 631 L457 629 L447 628 L450 626 L453 620 L451 614 L454 608 L452 600 L446 604 L440 606 L434 598 L429 592 L426 584 L428 579 L438 577 L448 570 L457 562 L457 556 L462 549 L470 546 L468 542Z" fill="#ededf3"/>
<path d="M368 607 L371 607 L376 605 L375 600 L380 598 L384 600 L383 605 L388 604 L390 609 L389 616 L395 614 L396 610 L400 610 L404 616 L402 622 L396 624 L390 629 L389 635 L390 640 L386 642 L388 646 L394 650 L400 651 L404 646 L412 644 L416 635 L424 633 L432 628 L439 622 L447 628 L446 631 L445 637 L442 645 L436 653 L431 659 L435 664 L432 669 L432 671 L424 673 L416 676 L408 679 L404 682 L409 685 L411 690 L413 697 L418 700 L414 706 L408 710 L402 716 L396 715 L390 716 L391 708 L389 702 L384 699 L374 700 L366 706 L360 709 L354 706 L346 700 L338 690 L332 680 L329 671 L336 667 L341 665 L338 661 L342 658 L348 654 L356 652 L362 655 L368 659 L370 652 L372 647 L380 645 L384 642 L382 638 L378 630 L370 624 L368 618 L367 613 L368 607Z" fill="#b3b1d4"/>
<path d="M447 628 L457 629 L463 631 L469 635 L475 635 L479 632 L485 632 L490 636 L494 639 L499 636 L499 643 L501.5 645 L497 647.5 L494 647.3 L492.7 651.3 L488.7 654 L483.3 654.7 L479.3 656 L475.3 658 L475 661.7 L477.5 665.8 L478.3 670.8 L481.7 674.2 L482.5 675.8 L481.7 678.3 L480.8 682.5 L477.5 683.8 L473.3 684.2 L469.2 685 L463.3 684.2 L461.7 681.7 L456.7 682 L451.7 680.8 L450.8 676.7 L449.2 674.2 L445 674.2 L440 676.7 L436 674 L432 671 L432 669 L435 664 L431 659 L436 653 L442 645 L445 637 L446 631 L447 628Z" fill="#b3b1d4"/>
<path d="M432 671 L424 673 L416 676 L408 679 L404 682 L409 685 L411 690 L413 697 L418 700 L414 706 L408 710 L402 716 L396 715 L390 716 L385 722 L390 730 L396 736 L406 740 L416 743 L429 746 L430 740 L436 737 L438 732 L440 725.4 L444.2 725.8 L448.3 729.2 L453.3 728.3 L459.2 727.9 L463.3 728.8 L467.5 729.2 L470.5 731 L474 733 L471.7 730.8 L470 727.5 L469.2 723.3 L468.3 719.2 L471.7 718.3 L475 717.5 L477.5 714.2 L480.8 710 L482.5 705.8 L484.2 701.7 L486.7 699.2 L485 696.7 L485 693.3 L487.5 691.7 L488.3 687.5 L487.5 682.5 L486.7 680.8 L485.8 676.7 L482.5 675.8 L481.7 678.3 L480.8 682.5 L477.5 683.8 L473.3 684.2 L469.2 685 L463.3 684.2 L461.7 681.7 L456.7 682 L451.7 680.8 L450.8 676.7 L449.2 674.2 L445 674.2 L440 676.7 L436 674 L432 671Z" fill="#d4d5e7"/>
<path d="M516.7 634.2 L517 640 L517.5 643.8 L520.8 643.3 L523.3 646.7 L530 646.7 L530.8 642.5 L535 642 L534.2 644.2 L537.5 646.7 L541.7 647.5 L544.2 650 L542.5 655 L541.7 658.3 L538.3 656.7 L535.8 659.2 L533.3 661.7 L534.2 665 L531.7 668.3 L533.3 670.8 L534.2 673 L540.8 675 L544.2 675.8 L545 679.2 L544.2 683.3 L543.3 686.7 L540.8 691.7 L539.2 693.3 L535 695 L530 695.8 L530.8 694.2 L532.5 690.8 L530.8 688.3 L528.3 686.7 L524.2 686.3 L520.8 686.7 L521.7 683.3 L520 681.7 L515.8 683.3 L514.2 685.8 L510 686.7 L507.9 685 L506.7 680 L504.2 678 L498.3 677.5 L494.2 675.8 L496.3 670 L497.5 666.7 L500.8 665 L504.6 663.3 L505 660 L507.5 656.7 L509.2 653.3 L510 649.2 L513.3 648.3 L515 645.8 L517.5 643.8 L517 640 L516.7 634.2Z" fill="#d4d5e7"/>
<path d="M494.2 675.8 L493.3 676.7 L491.7 680.8 L487.5 682.5 L488.3 687.5 L487.5 691.7 L485 693.3 L485 696.7 L486.7 699.2 L484.2 701.7 L482.5 705.8 L480.8 710 L477.5 714.2 L475 717.5 L478.8 721.7 L477.5 724.2 L480 728.3 L481.7 731.7 L482.5 733.3 L486.7 730.8 L491.7 727.5 L496.7 724.2 L500.8 721.3 L505.8 722 L506.7 722.5 L510.8 717.5 L511.7 714.2 L514.2 712 L511.7 710 L510.8 706.7 L510.8 704.2 L513.3 700.8 L516.3 697 L518.3 700 L520 703.3 L521.3 706.7 L521.7 710.8 L523.3 713.3 L526.7 715.4 L529.2 715 L530.8 713.3 L531.3 706.7 L530.4 701.7 L529.6 696.7 L530 695.8 L530.8 694.2 L532.5 690.8 L530.8 688.3 L528.3 686.7 L524.2 686.3 L520.8 686.7 L521.7 683.3 L520 681.7 L515.8 683.3 L514.2 685.8 L510 686.7 L507.9 685 L506.7 680 L504.2 678 L498.3 677.5 L494.2 675.8Z" fill="#9693c4"/>
<path d="M534.2 673 L540.8 675 L544.2 675.8 L545 679.2 L544.2 683.3 L543.3 686.7 L540.8 691.7 L548.3 693.3 L551.7 697.5 L556.7 700.8 L559.2 703.3 L555.8 705 L553.3 704.2 L551.7 707.5 L548.3 708.3 L541.7 708.3 L539.2 706.7 L537.5 704.2 L535 701.7 L532.5 699.2 L530 695.8 L529.6 696.7 L530.4 701.7 L531.3 706.7 L530.8 713.3 L529.2 715 L526.7 715.4 L528.3 720 L527.5 724.2 L528.8 730 L526.7 727.9 L522.5 730.4 L518.3 732.5 L519 735 L523 738 L526 742 L531 745 L535 750 L538 748 L548 745 L554 744 L553 740 L556 736 L560 738 L562 743 L565 742 L571 739 L577 737 L582 735 L585 732 L587 728 L584.7 732 L580.7 730 L575.3 728.7 L571.3 723.3 L568.7 718 L570 713 L572.5 710 L575.8 708.3 L577.5 705 L572.5 704.2 L568.3 701.7 L565.8 697.5 L566.7 695 L568.3 690.8 L570.8 686.7 L572.5 683.3 L573.3 679.2 L569.2 676.7 L565 676.7 L560.8 678.3 L558.3 676.7 L555.8 673.3 L556.7 670.8 L560 670 L561.7 667.5 L558.3 665.8 L556.7 661.7 L555.8 658.3 L551.7 658.5 L550 661 L547.5 663.3 L543.3 667.5 L538.3 670.8 L534.2 673Z" fill="#d4d5e7"/>
<path d="M536 609 L540 608 L548 612 L554 615 L558 622 L564 631 L568 638 L566 644 L570 654 L576 664 L584 674 L590 684 L596 696 L600 704 L606 712 L614 720 L624 725 L634 727 L640 729 L644 734 L649 739 L655 739 L661 738 L662 746 L668 752 L673 758 L675 764 L668 769.6 L650 769 L638 768.4 L637 765 L632 760 L628 753 L622 755 L614 756 L610 752 L612 744 L608 740 L600 738 L594 730 L588 725 L587 728 L584.7 732 L580.7 730 L575.3 728.7 L571.3 723.3 L568.7 718 L570 713 L572.5 710 L575.8 708.3 L577.5 705 L572.5 704.2 L568.3 701.7 L565.8 697.5 L566.7 695 L568.3 690.8 L570.8 686.7 L572.5 683.3 L573.3 679.2 L569.2 676.7 L565 676.7 L560.8 678.3 L558.3 676.7 L555.8 673.3 L556.7 670.8 L560 670 L561.7 667.5 L558.3 665.8 L556.7 661.7 L555.8 658.3 L551.7 658.5 L550 661 L547.5 663.3 L543.3 667.5 L538.3 670.8 L534.2 673 L533.3 670.8 L531.7 668.3 L534.2 665 L533.3 661.7 L535.8 659.2 L538.3 656.7 L541.7 658.3 L542.5 655 L544.2 650 L541.7 647.5 L537.5 646.7 L534.2 644.2 L535 642 L533.3 638.3 L530.8 634.2 L532.5 630.8 L535.8 629.2 L535 625 L532.5 623.3 L535.8 620 L539 615 L536 609Z" fill="#b3b1d4"/>
<path d="M429 746 L438 747 L444 754 L452 760 L460 765 L472 770 L484 775 L494 780 L504 784 L516 787 L524 789 L534 794 L538 792 L538 788 L544 786 L544 780 L548 773 L542 768 L540 762 L535 750 L531 745 L526 742 L523 738 L519 735 L518.3 732.5 L515 730 L510.8 727.5 L508.3 725 L506.7 722.5 L505.8 722 L500.8 721.3 L496.7 724.2 L491.7 727.5 L486.7 730.8 L482.5 733.3 L481.7 731.7 L480 728.3 L477.5 724.2 L478.8 721.7 L475 717.5 L471.7 718.3 L468.3 719.2 L469.2 723.3 L470 727.5 L471.7 730.8 L474 733 L470.5 731 L467.5 729.2 L463.3 728.8 L459.2 727.9 L453.3 728.3 L448.3 729.2 L444.2 725.8 L440 725.4 L438 732 L436 737 L430 740 L429 746Z" fill="#b3b1d4"/>
<path d="M534 794 L542 797 L550 801 L558 805 L570 807 L578 810 L588 813 L594 814 L604 812 L614 808 L624 804 L630 800 L638 799 L650 799 L661 802 L662 798 L660 790 L663 782 L666 774 L668 769.6 L650 769 L638 768.4 L637 765 L632 760 L628 753 L622 755 L614 756 L610 752 L612 744 L608 740 L600 738 L594 730 L588 725 L587 728 L585 732 L582 735 L577 737 L571 739 L565 742 L562 743 L560 738 L556 736 L553 740 L554 744 L548 745 L538 748 L535 750 L540 762 L542 768 L548 773 L544 780 L544 786 L538 788 L538 792 L534 794Z" fill="#b3b1d4"/>
<path d="M661 802 L670 806 L678 812 L686 820 L696 830 L706 840 L715 847 L716 840 L719 832 L718 824 L724 812 L730 802 L766 802 L767 793 L764 790 L758 784 L748 776 L742 768 L738 766 L732 758 L727 749 L721 747 L717 750 L712 754 L706 758 L700 763 L696 760 L692 758 L691 750 L688 748 L685 745 L682 748 L680 758 L675 764 L668 769.6 L666 774 L663 782 L660 790 L662 798 L661 802Z" fill="#9693c4"/>
<path d="M675 764 L673 758 L668 752 L662 746 L661 738 L674 732 L684 731 L696 730 L702 726 L709 725.6 L716 730 L717 738 L722 742 L731 747 L733 740 L750 745 L750 749 L750 766 L738 766 L732 758 L727 749 L721 747 L717 750 L712 754 L706 758 L700 763 L696 760 L692 758 L691 750 L688 748 L685 745 L682 748 L680 758 L675 764Z" fill="#ededf3"/>
<path d="M709 725.6 L716 730 L717 738 L722 742 L731 747 L733 740 L750 745 L750 749 L803 749 L803 699 L799 697 L794 692 L790 686 L787 680 L782 675 L779 669 L774 669 L767 666 L765 670 L764 684 L760 690 L759 700 L754 709 L746 714 L736 720 L727 725 L722 723.6 L716 724 L709 725.6Z" fill="#ededf3"/>
<path d="M767 666 L774 669 L779 669 L782 675 L787 680 L790 686 L794 692 L799 697 L804 693 L810 688 L816 682 L822 677 L830 674 L838 667 L844 660 L848 652 L849 638 L840 635 L832 633 L826 636 L818 637 L808 641 L796 643 L786 645 L776 648 L768 654 L767 666Z" fill="#ededf3"/>
<path d="M799 697 L804 693 L810 688 L816 682 L822 677 L830 674 L838 667 L844 660 L848 652 L849 638 L856 637 L860 634 L865 635 L868 640 L872 648 L869 656 L864 664 L858 674 L854 682 L850 690 L844 695 L846 698 L852 697 L848 702 L846 706 L850 705 L848 712 L844 724 L842 734 L840 738 L838 728 L835 719 L830 728 L822 732 L818 738 L814 744 L808 746 L804 744 L803 749 L803 699 L799 697Z" fill="#ededf3"/>
<path d="M416 635 L410 628 L412 620 L416 612 L426 608 L432 614 L438 620 L439 622 L432 628 L424 633 L416 635Z" fill="#ededf3"/>
<path d="M390 716 L391 708 L389 702 L384 699 L374 700 L366 706 L360 709 L368 713 L378 718 L385 722 L390 716Z" fill="#ededf3"/>
<path d="M499 636 L502.5 637.5 L506.7 639.6 L510 638.3 L510.8 635.8 L514.2 632.5 L516.7 634.2 L517 640 L517.5 643.8 L515 645.8 L513.3 648.3 L510 649.2 L509.2 653.3 L507.5 656.7 L505 660 L504.6 663.3 L500.8 665 L497.5 666.7 L496.3 670 L494.2 675.8 L493.3 676.7 L491.7 680.8 L487.5 682.5 L486.7 680.8 L485.8 676.7 L482.5 675.8 L481.7 674.2 L478.3 670.8 L477.5 665.8 L475 661.7 L475.3 658 L479.3 656 L483.3 654.7 L488.7 654 L492.7 651.3 L494 647.3 L497 647.5 L501.5 645 L499 643 L499 636Z" fill="#ededf3"/>
<path d="M514.2 712 L511.7 710 L510.8 706.7 L510.8 704.2 L513.3 700.8 L516.3 697 L518.3 700 L520 703.3 L521.3 706.7 L521.7 710.8 L517.5 711.3 L514.2 712Z" fill="#b3b1d4"/>
<path d="M506.7 722.5 L510.8 717.5 L511.7 714.2 L514.2 712 L517.5 711.3 L521.7 710.8 L523.3 713.3 L526.7 715.4 L528.3 720 L527.5 724.2 L528.8 730 L526.7 727.9 L522.5 730.4 L518.3 732.5 L515 730 L510.8 727.5 L508.3 725 L506.7 722.5Z" fill="#ededf3"/>
<path d="M540.8 691.7 L548.3 693.3 L551.7 697.5 L556.7 700.8 L559.2 703.3 L555.8 705 L553.3 704.2 L551.7 707.5 L548.3 708.3 L541.7 708.3 L539.2 706.7 L537.5 704.2 L535 701.7 L532.5 699.2 L530 695.8 L535 695 L539.2 693.3 L540.8 691.7Z" fill="#ededf3"/>
</g>
<g stroke="#717171" stroke-width="0.8" stroke-linejoin="round">
<path d="M101 382 L104 381 L108 386 L112 392 L115 398 L113 399 L108 394 L104 389Z" fill="#d4d5e7"/>
<path d="M134 392 L140 392 L142 396 L140 402 L137 407 L131 403 L133 397Z" fill="#ededf3"/>
<path d="M54 420 L55.5 427 L56.5 430.5 L52 429.5 L51 428Z" fill="#d4d5e7"/>
<path d="M150 469 L155 468 L160 475 L156 478 L152 473Z" fill="#ededf3"/>
<path d="M170 494 L172 493 L174 497 L171 502Z" fill="#ededf3"/>
<path d="M184 525 L187 525 L189.5 530 L187 532 L185 529Z" fill="#ededf3"/>
<path d="M193 541 L195 542 L196 547 L194 546Z" fill="#ededf3"/>
<path d="M206 548 L208 550 L210 556 L208 555Z" fill="#ededf3"/>
<path d="M148 543 L151 542.5 L155 546 L154 548 L150 546Z" fill="#ededf3"/>
<path d="M300 632 L303 631 L305 634 L302 635Z" fill="#ededf3"/>
<path d="M305 637 L308 636 L309 639 L306 640Z" fill="#ededf3"/>
<path d="M864 670 L868 667 L872 665.6 L870 670 L866 675Z" fill="#ededf3"/>
<path d="M727 725 L732 722 L738 719 L742 720.5 L743 724 L740 728 L734 730 L728 728Z" fill="#fff"/>
</g>
<g mask="url(#fade)">
<text x="535" y="71.7" font-size="15" letter-spacing="0.25" text-anchor="middle" fill="#999999" stroke="#f4f4f4" stroke-width="3" stroke-linejoin="round" paint-order="stroke">Kansas</text>
<text x="707" y="80.7" font-size="15" letter-spacing="0.25" text-anchor="middle" fill="#999999" stroke="#f4f4f4" stroke-width="3" stroke-linejoin="round" paint-order="stroke">Misuri</text>
<text x="926.5" y="97.2" font-size="15" letter-spacing="0.25" text-anchor="middle" fill="#999999" stroke="#f4f4f4" stroke-width="3" stroke-linejoin="round" paint-order="stroke">Kentucky</text>
<text x="564" y="179.2" font-size="15" letter-spacing="0.25" text-anchor="middle" fill="#999999" stroke="#f4f4f4" stroke-width="3" stroke-linejoin="round" paint-order="stroke">Oklahoma</text>
<text x="887" y="170.7" font-size="15" letter-spacing="0.25" text-anchor="middle" fill="#999999" stroke="#f4f4f4" stroke-width="3" stroke-linejoin="round" paint-order="stroke">Tennessee</text>
<text x="707" y="206.2" font-size="15" letter-spacing="0.25" text-anchor="middle" fill="#999999" stroke="#f4f4f4" stroke-width="3" stroke-linejoin="round" paint-order="stroke">Arkansas</text>
<text x="162" y="214.2" font-size="15" letter-spacing="0.25" text-anchor="middle" fill="#999999" stroke="#f4f4f4" stroke-width="3" stroke-linejoin="round" paint-order="stroke">Arizona</text>
<text x="320" y="204.2" font-size="15" letter-spacing="0.25" text-anchor="middle" fill="#999999" stroke="#f4f4f4" stroke-width="3" stroke-linejoin="round" paint-order="stroke">Nuevo</text>
<text x="320" y="224.2" font-size="15" letter-spacing="0.25" text-anchor="middle" fill="#999999" stroke="#f4f4f4" stroke-width="3" stroke-linejoin="round" paint-order="stroke">México</text>
<text x="513.5" y="325.7" font-size="15" letter-spacing="0.25" text-anchor="middle" fill="#999999" stroke="#f4f4f4" stroke-width="3" stroke-linejoin="round" paint-order="stroke">Tejas</text>
<text x="784.5" y="249.2" font-size="15" letter-spacing="0.25" text-anchor="middle" fill="#999999" stroke="#f4f4f4" stroke-width="3" stroke-linejoin="round" paint-order="stroke">Misisipi</text>
<text x="872.5" y="274.7" font-size="15" letter-spacing="0.25" text-anchor="middle" fill="#999999" stroke="#f4f4f4" stroke-width="3" stroke-linejoin="round" paint-order="stroke">Alabama</text>
<text x="967" y="294.7" font-size="15" letter-spacing="0.25" text-anchor="middle" fill="#999999" stroke="#f4f4f4" stroke-width="3" stroke-linejoin="round" paint-order="stroke">Georgia</text>
<text x="714.5" y="344.2" font-size="15" letter-spacing="0.25" text-anchor="middle" fill="#999999" stroke="#f4f4f4" stroke-width="3" stroke-linejoin="round" paint-order="stroke">Luisiana</text>
<text x="61.5" y="357.2" font-size="15" letter-spacing="0.25" text-anchor="middle" fill="#9a9a9a">Baja</text>
<text x="61.5" y="377.2" font-size="15" letter-spacing="0.25" text-anchor="middle" fill="#9a9a9a">California</text>
<text x="186" y="389.7" font-size="15" letter-spacing="0.25" text-anchor="middle" fill="#9a9a9a">Sonora</text>
<text x="152" y="492.2" font-size="15" letter-spacing="0.25" text-anchor="middle" fill="#9a9a9a">Baja California</text>
<text x="152" y="512.2" font-size="15" letter-spacing="0.25" text-anchor="middle" fill="#9a9a9a">Sur</text>
<text x="320" y="416.2" font-size="15" letter-spacing="0.25" text-anchor="middle" fill="#9a9a9a">Chihuahua</text>
<text x="435" y="445.2" font-size="15" letter-spacing="0.25" text-anchor="middle" fill="#9a9a9a">Coahuila de</text>
<text x="435" y="465.2" font-size="15" letter-spacing="0.25" text-anchor="middle" fill="#9a9a9a">Zaragoza</text>
<text x="492" y="509.2" font-size="15" letter-spacing="0.25" text-anchor="middle" fill="#9a9a9a">Nuevo León</text>
<text x="528.5" y="560.2" font-size="15" letter-spacing="0.25" text-anchor="middle" fill="#9a9a9a">Tamaulipas</text>
<text x="277" y="529.2" font-size="15" letter-spacing="0.25" text-anchor="middle" fill="#9a9a9a">Sinaloa</text>
<text x="354" y="535.2" font-size="15" letter-spacing="0.25" text-anchor="middle" fill="#9a9a9a">Durango</text>
<text x="349" y="623.2" font-size="15" letter-spacing="0.25" text-anchor="middle" fill="#9a9a9a">Nayarit</text>
<text x="387" y="674.2" font-size="15" letter-spacing="0.25" text-anchor="middle" fill="#9a9a9a">Jalisco</text>
<text x="494" y="757.2" font-size="15" letter-spacing="0.25" text-anchor="middle" fill="#9a9a9a">Guerrero</text>
<text x="592.5" y="775.2" font-size="15" letter-spacing="0.25" text-anchor="middle" fill="#9a9a9a">Oaxaca</text>
<text x="707.5" y="790.2" font-size="15" letter-spacing="0.25" text-anchor="middle" fill="#9a9a9a">Chiapas</text>
<text x="588.5" y="685.2" font-size="15" letter-spacing="0.25" text-anchor="middle" fill="#9a9a9a">Veracruz</text>
<text x="588" y="705.2" font-size="15" letter-spacing="0.25" text-anchor="middle" fill="#9a9a9a">de Ignacio</text>
<text x="588" y="725.2" font-size="15" letter-spacing="0.25" text-anchor="middle" fill="#9a9a9a">de la Llave</text>
<text x="764" y="715.2" font-size="15" letter-spacing="0.25" text-anchor="middle" fill="#9a9a9a">Campeche</text>
<text x="808.5" y="659.2" font-size="15" letter-spacing="0.25" text-anchor="middle" fill="#9a9a9a">Yucatán</text>
<text x="862" y="839.6" font-size="17.5" letter-spacing="0" text-anchor="middle" fill="#8e8e8e" stroke="#f4f4f4" stroke-width="3" stroke-linejoin="round" paint-order="stroke">Honduras</text>
<text x="922" y="903.1" font-size="17.5" letter-spacing="0" text-anchor="middle" fill="#8e8e8e" stroke="#f4f4f4" stroke-width="3" stroke-linejoin="round" paint-order="stroke">Nicaragua</text>
<text x="904.5" y="978.1" font-size="17.5" letter-spacing="0" text-anchor="start" fill="#8e8e8e" stroke="#f4f4f4" stroke-width="3" stroke-linejoin="round" paint-order="stroke">Costa Rica</text>
<text x="444.5" y="594.44" font-size="24" letter-spacing="-1" text-anchor="middle" fill="#b5b5b5">Mexico</text>
</g>
<g class="num" fill="#000" text-anchor="middle">
<text x="61.5" y="361">11</text><text x="61.5" y="380.7">0</text>
<text x="185.3" y="385">6</text><text x="185.3" y="404.7">0</text>
<text x="319" y="412">11</text><text x="319" y="431.7">1</text>
<text x="434.4" y="449">8</text><text x="434.4" y="468.7">1</text>
<text x="491.4" y="503">8</text><text x="491.4" y="522.7">3</text>
<text x="527" y="556">8</text><text x="527" y="575.7">1</text>
<text x="153" y="497">1</text><text x="153" y="516.7">0</text>
<text x="277" y="524">6</text><text x="277" y="543.7">0</text>
<text x="353" y="529">6</text><text x="353" y="548.7">0</text>
<text x="406" y="587">4</text><text x="406" y="606.7">0</text>
<text x="459.4" y="592">6</text><text x="459.4" y="611.7">0</text>
<text x="347" y="617">4</text><text x="347" y="636.7">2</text>
<text x="419" y="617">1</text><text x="419" y="636.7">0</text>
<text x="387" y="670">15</text><text x="387" y="689.7">0</text>
<text x="463" y="649">15</text><text x="463" y="668.7">1</text>
<text x="491.6" y="653">1</text><text x="491.6" y="672.7">0</text>
<text x="443" y="704">7</text><text x="443" y="723.7">0</text>
<text x="496" y="700">22</text><text x="496" y="719.7">3</text>
<text x="515.6" y="700">17</text><text x="515.6" y="719.7">2</text>
<text x="545.4" y="697">3</text><text x="545.4" y="716.7">0</text>
<text x="588" y="700">13</text><text x="588" y="719.7">1</text>
<text x="493" y="752">15</text><text x="493" y="771.7">0</text>
<text x="592" y="770">16</text><text x="592" y="789.7">2</text>
<text x="707.5" y="785">25</text><text x="707.5" y="804.7">1</text>
<text x="703" y="740">3</text><text x="703" y="759.7">0</text>
<text x="764.4" y="710">0</text><text x="764.4" y="729.7">0</text>
<text x="809" y="653">1</text><text x="809" y="672.7">0</text>
<text x="821.4" y="690">4</text><text x="821.4" y="709.7">0</text>
</g>
</svg></div>
<div class="ln" style="left:0;top:53px;width:975px;height:1px"></div>
<div class="ln" style="left:974px;top:53px;width:1px;height:1018px"></div>
<div class="ln" style="left:0;top:1069px;width:975px;height:1px"></div>
<div class="ln" style="left:0;top:1070px;width:975px;height:1px;background:#e6e6e6"></div>
<div id="osm">© OpenStreetMap</div>
<div id="dots"></div>
<div id="tbl">
<div class="hd" style="left:10px;top:22.4px">Entidad</div>
<div class="hd" style="right:-6px;top:4.3px;text-align:right">Semana<br>1-20</div>
<div style="position:absolute;left:0;top:42px;width:121px;height:1px;background:#d0d0d0"></div>
<div style="position:absolute;left:121px;top:43px;width:92px;height:1px;background:#d0d0d0"></div>
<div class="row" style="top:43px"><b>Nacional</b><i>254</i></div>
<div class="row alt" style="top:73px"><b>Chiapas</b><i>25</i></div>
<div class="row" style="top:103px"><b>México</b><i>22</i></div>
<div class="row alt" style="top:133px"><b>Ciudad de M..</b><i>17</i></div>
<div class="row" style="top:163px"><b>Oaxaca</b><i>16</i></div>
<div class="row alt" style="top:193px"><b>Guanajuato</b><i>15</i></div>
<div class="row" style="top:223px"><b>Guerrero</b><i>15</i></div>
<div class="row alt" style="top:253px"><b>Jalisco</b><i>15</i></div>
<div class="row" style="top:283px"><b>Veracruz</b><i>13</i></div>
<div class="row alt" style="top:313px"><b>Baja Californ..</b><i>11</i></div>
<div class="row" style="top:343px"><b>Chihuahua</b><i>11</i></div>
<div class="row alt" style="top:373px"><b>Puebla</b><i>9</i></div>
<div class="row" style="top:403px"><b>Coahuila</b><i>8</i></div>
<div class="row alt" style="top:433px"><b>Nuevo León</b><i>8</i></div>
<div class="row" style="top:463px"><b>Tamaulipas</b><i>8</i></div>
<div class="row alt" style="top:493px"><b>Hidalgo</b><i>7</i></div>
<div class="row" style="top:523px"><b>Michoacán</b><i>7</i></div>
<div class="row alt" style="top:553px"><b>Durango</b><i>6</i></div>
<div class="row" style="top:583px"><b>San Luis Pot..</b><i>6</i></div>
<div class="row alt" style="top:613px"><b>Sinaloa</b><i>6</i></div>
<div class="row" style="top:643px"><b>Sonora</b><i>6</i></div>
<div class="row alt" style="top:673px"><b>Nayarit</b><i>4</i></div>
<div class="row" style="top:703px"><b>Quintana Roo</b><i>4</i></div>
<div class="row alt" style="top:733px"><b>Zacatecas</b><i>4</i></div>
<div class="row" style="top:763px"><b>Tabasco</b><i>3</i></div>
<div class="row alt" style="top:793px"><b>Tlaxcala</b><i>3</i></div>
<div class="row" style="top:823px"><b>Aguascalient..</b><i>1</i></div>
<div class="row alt" style="top:853px"><b>Baja Californ..</b><i>1</i></div>
<div class="row" style="top:883px"><b>Morelos</b><i>1</i></div>
<div class="row alt" style="top:913px"><b>Querétaro</b><i>1</i></div>
<div class="row" style="top:943px"><b>Yucatán</b><i>1</i></div>
<div class="row alt" style="top:973px"><b>Campeche</b><i>0</i></div>
<div class="row" style="top:1003px"><b>Colima</b><i>0</i></div>
<div style="position:absolute;left:0;top:1032px;width:213px;height:1px;background:#d0d0d0"></div>
</div>
<div id="leg1" style="right:972px;top:1089.5px">Muertes maternas semana acumulada 1-20</div>
<div id="leg2" style="right:670.5px;top:1110.5px">Fuente: Elaboración OMM con base en Boletines de Epidemiología SSA, 2017.</div>
<div id="bar"><span style="width:189px;background:#efeef5"></span><span style="width:264px;background:#d3d4e8"></span><span style="width:264px;background:#aca8d0"></span><span style="width:265px;background:#8680bb"></span></div>
<div id="lab25">25</div>
</body></html>
